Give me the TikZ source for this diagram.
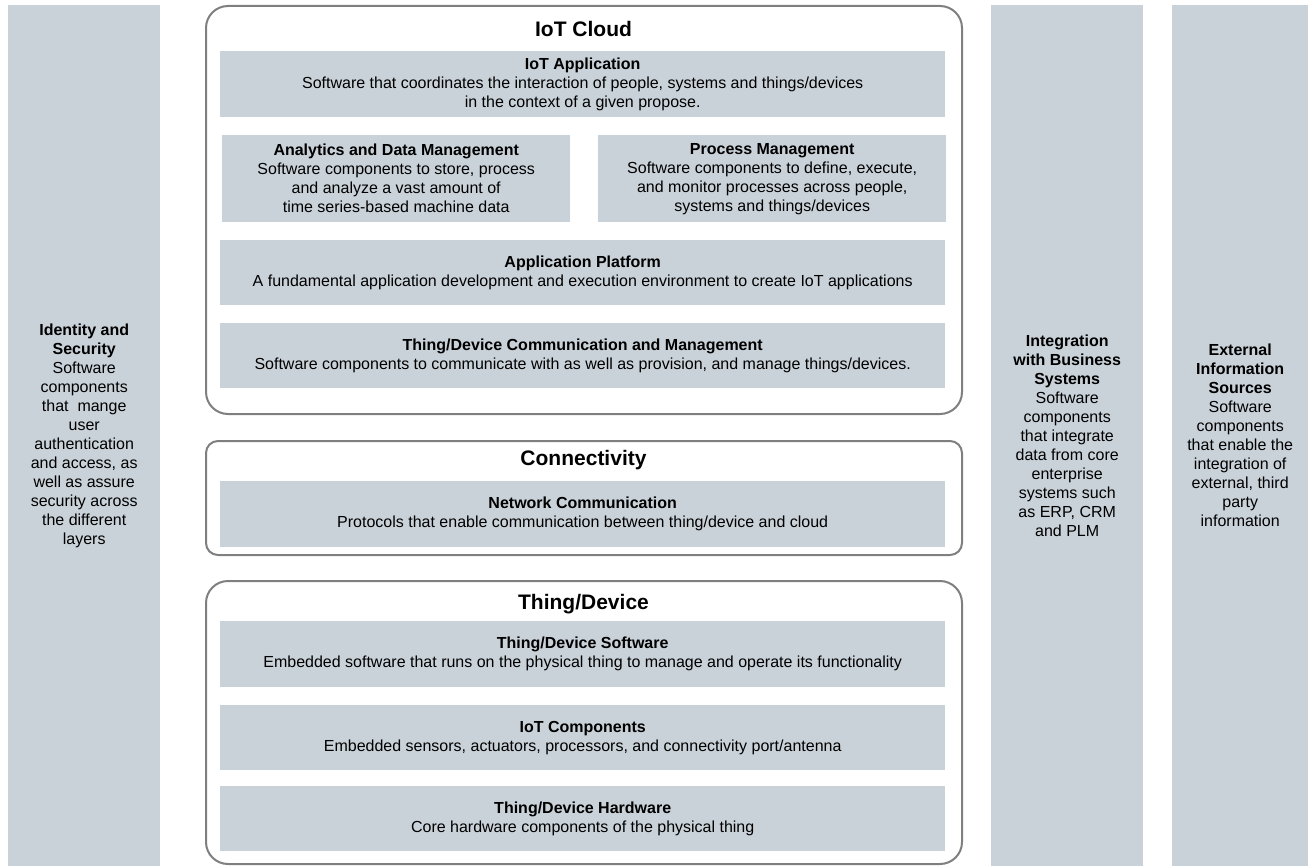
\documentclass[tikz,border=0pt]{standalone}
\usepackage{fontspec}
\setmainfont{Liberation Sans}
\definecolor{layerfill}{HTML}{CAD2D9}
\definecolor{layerline}{HTML}{7F7F7F}

\begin{document}
\begin{tikzpicture}[x=1pt, y=-1pt, every node/.style={align=center, inner sep=0pt, anchor=north west},
  block/.style={fill=layerfill, font=\fontsize{16}{19}\selectfont},
  layer/.style={draw=layerline, line width=2pt, rounded corners=22pt},
  layertitle/.style={anchor=center, font=\fontsize{21}{24}\selectfont\bfseries}]
\useasboundingbox (0,0) rectangle (1308,866);

% side columns
\node (ident) [block, minimum width=152, minimum height=861] at (8,5) {\textbf{Identity and}\\\textbf{Security}\\Software\\components\\that~ mange\\user\\authentication\\and access, as\\well as assure\\security across\\the different\\layers};
\node (integ) [block, minimum width=152, minimum height=861] at (991,5) {\textbf{Integration}\\\textbf{with Business}\\\textbf{Systems}\\Software\\components\\that integrate\\data from core\\enterprise\\systems such\\as ERP, CRM\\and PLM};
\node (extern) [block, minimum width=136, minimum height=861] at (1172,5) {\textbf{External}\\\textbf{Information}\\\textbf{Sources}\\Software\\components\\that enable the\\integration of\\external, third\\party\\information};

% IoT cloud
\node (cloud) [layer, minimum width=756, minimum height=408] at (205,5) {};
\node (cloudtitle) [layertitle] at (583.5,29) {IoT Cloud};
\node (app) [block, minimum width=725, minimum height=66] at (220,51) {\textbf{IoT Application}\\Software that coordinates the interaction of people, systems and things/devices\\in the context of a given propose.};
\node (analytics) [block, minimum width=348, minimum height=87] at (222,135) {\textbf{Analytics and Data Management}\\Software components to store, process\\and analyze a vast amount of\\time series-based machine data};
\node (process) [block, minimum width=348, minimum height=87] at (598,135) {\textbf{Process Management}\\Software components to define, execute,\\and monitor processes across people,\\systems and things/devices};
\node (platform) [block, minimum width=725, minimum height=65] at (220,240) {\textbf{Application Platform}\\A fundamental application development and execution environment to create IoT applications};
\node (devcomm) [block, minimum width=725, minimum height=65] at (220,323) {\textbf{Thing/Device Communication and Management}\\Software components to communicate with as well as provision, and manage things/devices.};

% connectivity
\node (conn) [layer, rounded corners=12pt, minimum width=756, minimum height=114] at (205,440) {};
\node (conntitle) [layertitle] at (583.5,460) {Connectivity};
\node (network) [block, minimum width=725, minimum height=66] at (220,481) {\textbf{Network Communication}\\Protocols that enable communication between thing/device and cloud};

% thing/device
\node (thing) [layer, minimum width=756, minimum height=283] at (205,580) {};
\node (thingtitle) [layertitle] at (583.5,604) {Thing/Device};
\node (software) [block, minimum width=725, minimum height=66] at (220,621) {\textbf{Thing/Device Software}\\Embedded software that runs on the physical thing to manage and operate its functionality};
\node (components) [block, minimum width=725, minimum height=65] at (220,705) {\textbf{IoT Components}\\Embedded sensors, actuators, processors, and connectivity port/antenna};
\node (hardware) [block, minimum width=725, minimum height=65] at (220,786) {\textbf{Thing/Device Hardware}\\Core hardware components of the physical thing};
\end{tikzpicture}
\end{document}
